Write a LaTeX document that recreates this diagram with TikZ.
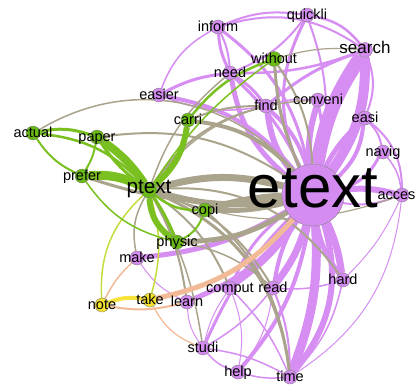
\documentclass[tikz,border=0pt]{standalone}
\usepackage{fontspec}
\setmainfont{Liberation Sans}
\usetikzlibrary{backgrounds}
\definecolor{pnode}{RGB}{212,140,240}
\definecolor{pedge}{RGB}{214,142,242}
\definecolor{gnode}{RGB}{106,186,22}
\definecolor{gedge}{RGB}{122,192,32}
\definecolor{kedge}{RGB}{170,164,140}
\definecolor{ynode}{RGB}{246,226,46}
\definecolor{yedge}{RGB}{248,226,60}
\definecolor{oedge}{RGB}{242,186,150}
\definecolor{ygedge}{RGB}{196,220,60}
\tikzset{
  pn/.style={circle, fill=pnode, draw=black!55, line width=0.3pt, inner sep=0pt, minimum size=14pt},
  gn/.style={pn, fill=gnode},
  yn/.style={pn, fill=ynode},
  lab/.style={font=\fontsize{14.5}{14.5}\selectfont, text=black, inner sep=0pt, anchor=base},
  pe/.style={draw=pedge, line width=#1pt},
  ge/.style={draw=gedge, line width=#1pt},
  ke/.style={draw=kedge, line width=#1pt},
  ye/.style={draw=yedge, line width=#1pt},
  oe/.style={draw=oedge, line width=#1pt},
  yge/.style={draw=ygedge, line width=#1pt},
}
\begin{document}
\begin{tikzpicture}[x=1pt,y=1pt]
\useasboundingbox (0,0) rectangle (417,-386);
% nodes
\node[pn, minimum size=62pt] (etext) at (313,-195) {};
\node[pn, minimum size=15pt] (search) at (365,-50) {};
\node[pn] (quickli) at (307,-15) {};
\node[pn] (inform) at (218,-27) {};
\node[gn, minimum size=15pt] (without) at (274,-59) {};
\node[pn] (need) at (230,-73) {};
\node[pn] (find) at (266,-106) {};
\node[pn] (conveni) at (318,-100) {};
\node[pn] (easi) at (365,-118) {};
\node[pn] (navig) at (383,-152) {};
\node[pn] (acces) at (402,-195) {};
\node[pn] (easier) at (159,-95) {};
\node[gn] (carri) at (188,-120) {};
\node[gn] (actual) at (33,-133) {};
\node[gn] (paper) at (97,-137) {};
\node[gn] (prefer) at (82,-176) {};
\node[gn, minimum size=16pt] (ptext) at (149,-190) {};
\node[gn] (copi) at (205,-210) {};
\node[gn] (physic) at (177,-242) {};
\node[pn] (make) at (137,-258) {};
\node[yn] (note) at (102,-305) {};
\node[yn] (take) at (150,-300) {};
\node[pn] (learn) at (187,-302) {};
\node[pn] (comput) at (230,-288) {};
\node[pn] (read) at (273,-288) {};
\node[pn] (hard) at (343,-280) {};
\node[pn] (studi) at (203,-348) {};
\node[pn] (help) at (238,-372) {};
\node[pn] (time) at (290,-377) {};
% labels
\node[lab, font=\fontsize{60}{60}\selectfont] (l-etext) at ([yshift=-12pt]etext.center) {etext};
\node[lab, font=\fontsize{20.7}{20.7}\selectfont] (l-ptext) at ([yshift=-3.5pt]ptext.center) {ptext};
\node[lab, font=\fontsize{17}{17}\selectfont] (l-search) at ([yshift=-3.5pt]search.center) {search};
\node[lab] (l-acces) at ([xshift=-5.5pt,yshift=-4.5pt]acces.center) {acces};
\foreach \n in {quickli,inform,without,need,find,conveni,easi,navig,easier,carri,actual,paper,prefer,copi,physic,make,note,take,learn,comput,read,hard,studi,help,time}
  \node[lab] (l-\n) at ([yshift=-4.5pt]\n.center) {\n};
% edges
\begin{scope}[on background layer]
\fill[white] (0,0) rectangle (417,-386);
% purple from etext
\draw[pe=14] (etext) to[bend left=12] (search);
\draw[pe=10] (etext) to[bend right=18] (search);
\draw[pe=5] (etext) to[bend left=10] (easi);
\draw[pe=4] (etext) to[bend right=20] (easi);
\draw[pe=3] (etext) to[bend right=20] (navig);
\draw[pe=6] (etext) to[bend left=10] (acces);
\draw[pe=2] (etext) to[bend right=15] (acces);
\draw[pe=6] (etext) to[bend left=10] (conveni);
\draw[pe=3] (etext) to[bend right=10] (conveni);
\draw[pe=6] (etext) to[bend left=15] (find);
\draw[pe=4] (etext) to[bend right=15] (find);
\draw[pe=5] (etext) to[bend left=20] (need);
\draw[pe=3] (etext) to[bend right=10] (need);
\draw[pe=3] (etext) to[bend right=20] (inform);
\draw[pe=3] (etext) to[bend left=25] (quickli);
\draw[pe=2] (etext) to[bend right=15] (quickli);
\draw[pe=4] (etext) to[bend right=20] (easier);
\draw[pe=7] (etext) to[bend left=8] (hard);
\draw[pe=5] (etext) to[bend right=12] (hard);
\draw[pe=7] (etext) to[bend left=10] (read);
\draw[pe=4] (etext) to[bend right=10] (read);
\draw[pe=5] (etext) to[bend left=10] (comput);
\draw[pe=3] (etext) to[bend right=15] (comput);
\draw[pe=9] (etext) to[bend left=12] (time);
\draw[pe=6] (etext) to[bend left=28] (time);
\draw[pe=4] (etext) to[bend left=15] (help);
\draw[pe=3] (etext) to[bend right=10] (studi);
\draw[pe=5] (learn) to[bend right=15] (etext);
\draw[pe=5] (make) to[bend right=12] (etext);
% purple misc
\draw[pe=2.5] (search) to[bend right=20] (quickli);
\draw[pe=2] (search) to[bend right=25] (inform);
\draw[pe=2.5] (search) to[bend left=10] (need);
\draw[pe=3] (search) to[bend right=10] (find);
\draw[pe=2] (search) to[bend left=20] (easi);
\draw[pe=2] (quickli) to[bend right=15] (inform);
\draw[pe=2] (quickli) to[bend left=15] (need);
\draw[pe=3] (inform) to[bend right=10] (need);
\draw[pe=2] (inform) to[bend left=10] (need);
\draw[pe=1.5] (inform) to[bend right=20] (easier);
\draw[pe=3] (need) to[bend left=10] (find);
\draw[pe=3] (easier) to[bend left=10] (need);
\draw[pe=1.5] (easier) to[bend right=15] (find);
\draw[pe=1.5] (find) to[bend left=10] (conveni);
\draw[pe=2] (easi) to[bend left=15] (navig);
\draw[pe=1.5] (navig) to[bend left=15] (acces);
\draw[pe=2] (easi) to[bend left=25] (acces);
\draw[pe=1] (acces) to[bend left=25] (time);
\draw[pe=1] (acces) to[bend left=10] (hard);
\draw[pe=1.5] (hard) to[bend left=15] (time);
\draw[pe=1.5] (read) to[bend right=10] (hard);
\draw[pe=2] (read) to[bend left=10] (time);
\draw[pe=1.5] (read) to[bend left=10] (studi);
\draw[pe=1] (read) to[bend left=15] (help);
\draw[pe=1.5] (comput) to[bend left=10] (time);
\draw[pe=1] (comput) to[bend left=15] (help);
\draw[pe=1] (comput) to[bend right=10] (studi);
\draw[pe=1.5] (studi) to[bend right=15] (help);
\draw[pe=1.5] (studi) to[bend left=10] (time);
\draw[pe=1.5] (help) to[bend right=10] (time);
\draw[pe=1] (learn) to[bend right=15] (studi);
\draw[pe=2] (learn) to[bend left=10] (comput);
\draw[pe=1] (make) to[bend right=15] (learn);
% gray
\draw[ke=7] (ptext) to[bend left=15] (etext);
\draw[ke=6] (ptext) to[bend right=12] (etext);
\draw[ke=7] (copi) to[bend left=6] (etext);
\draw[ke=5] (copi) to[bend right=8] (etext);
\draw[ke=5] (physic) to[bend right=15] (etext);
\draw[ke=4] (carri) to[bend left=20] (etext);
\draw[ke=2] (paper) to[bend left=20] (etext);
\draw[ke=3] (prefer) to[bend right=12] (etext);
\draw[ke=1.5] (actual) to[bend left=40] (etext);
\draw[ke=3] (without) to[bend right=10] (etext);
\draw[ke=2] (without) to[bend left=15] (etext);
\draw[ke=3] (ptext) to[bend left=30] (time);
\draw[ke=2] (ptext) to[bend left=30] (hard);
\draw[ke=2] (ptext) to[bend left=20] (read);
\draw[ke=2] (ptext) to[bend left=15] (comput);
\draw[ke=1.5] (ptext) to[bend left=10] (studi);
\draw[ke=1.5] (ptext) to[bend right=20] (make);
\draw[ke=2] (ptext) to[bend left=10] (learn);
\draw[ke=2] (ptext) to[bend left=20] (find);
\draw[ke=1.5] (ptext) to[bend left=15] (need);
\draw[ke=1.5] (ptext) to[bend left=25] (conveni);
\draw[ke=1.2] (ptext) to[bend right=20] (acces);
\draw[ke=1.2] (without) to[bend left=10] (search);
\draw[ke=2] (copi) to[bend left=20] (time);
\draw[ke=1.5] (physic) to[bend left=15] (read);
\draw[ke=2] (carri) to[bend left=10] (find);
% orange / yellow
\draw[oe=5] (take) to[bend right=18] (etext);
\draw[oe=2] (note) to[bend right=12] (learn);
\draw[oe=1.5] (note) to[bend left=10] (make);
\draw[oe=1.2] (take) to[bend right=20] (studi);
\draw[yge=1.5] (note) to[bend left=25] (ptext);
\draw[yge=1.5] (take) to[bend right=15] (ptext);
\draw[ye=4] (note) to[bend left=15] (take);
% green
\draw[ge=8] (paper) to[bend left=10] (ptext);
\draw[ge=3] (paper) to[bend right=10] (ptext);
\draw[ge=9] (prefer) to[bend left=15] (ptext);
\draw[ge=6] (ptext) to[bend right=20] (carri);
\draw[ge=6] (ptext) to[bend right=25] (physic);
\draw[ge=3] (ptext) to[bend left=5] (physic);
\draw[ge=2.5] (ptext) to[bend right=20] (copi);
\draw[ge=2] (copi) to[bend left=20] (physic);
\draw[ge=3] (actual) to[bend left=15] (paper);
\draw[ge=2.5] (actual) to[bend left=20] (ptext);
\draw[ge=2] (actual) to[bend right=15] (prefer);
\draw[ge=2] (paper) to[bend left=10] (prefer);
\draw[ge=1.5] (prefer) to[bend right=20] (physic);
\draw[ge=2.5] (carri) to[bend left=15] (without);
\draw[ge=1.5] (ptext) to[bend left=10] (without);
\end{scope}
\end{tikzpicture}
\end{document}
